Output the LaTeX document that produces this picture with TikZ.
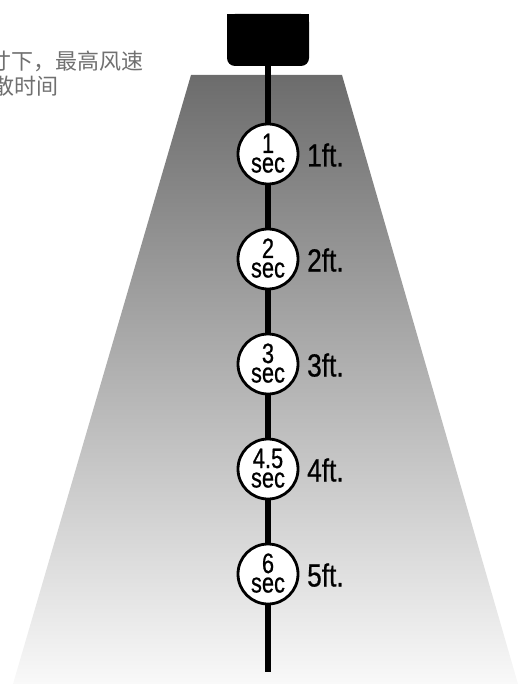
\documentclass[tikz,border=0pt]{standalone}
\usepackage{fontspec}
\setmainfont{Liberation Sans}
\newfontfamily\condfont[FakeStretch=0.78,FakeBold=0.6]{Liberation Sans}
\newfontfamily\labelfont[FakeStretch=0.82,FakeBold=0.6]{Liberation Sans}
\newfontfamily\cjkfont{Noto Sans CJK SC}
\definecolor{trapTop}{RGB}{108,108,108}
\definecolor{trapBot}{RGB}{249,249,249}
\definecolor{noteGray}{RGB}{112,112,112}
\tikzset{
  lampbox/.style={fill=black, inner sep=0pt, minimum width=82pt, minimum height=52pt, rounded corners=8pt},
  timecircle/.style={circle, draw=black, line width=2.8pt, fill=white, minimum size=60pt, inner sep=0pt},
  timenum/.style={anchor=base, inner sep=0pt, font=\fontsize{28}{28}\condfont},
  secword/.style={anchor=base, inner sep=0pt, font=\fontsize{28}{28}\condfont},
  distlabel/.style={anchor=base west, inner sep=0pt, font=\fontsize{32}{32}\labelfont},
  note/.style={anchor=base west, inner sep=0pt, text=noteGray, font=\fontsize{22}{22}\cjkfont},
  stem/.style={line width=6.5pt, draw=black}
}
\begin{document}
\begin{tikzpicture}[x=1pt,y=-1pt]
\useasboundingbox (0,0) rectangle (520,684);
% light cone
\shade[top color=trapTop, bottom color=trapBot] (191,75) -- (342,75) -- (518,684) -- (13,684) -- cycle;
% note text
\node[note] (note1) at (-11,70) {寸下，最高风速};
\node[note] (note2) at (-8,95) {散时间};
% lamp
\node[lampbox] (lamp) at (268,40) {};
\fill (lamp.north west) rectangle (lamp.east);
\coordinate (stemend) at (268,672);
\draw[stem] (lamp.south) -- (stemend);
% circles
\foreach \n/\y/\t/\d in {1/154/1/1ft., 2/259/2/2ft., 3/364/3/3ft., 4/469/4.5/4ft., 5/574/6/5ft.}{
  \node[timecircle] (c\n) at (268,\y) {};
  \node[timenum] (t\n) at ([yshift=1pt]c\n.center) {\t};
  \node[secword] (s\n) at ([yshift=-18.5pt]c\n.center) {sec};
  \node[distlabel] (d\n) at ([xshift=39pt,yshift=-12.5pt]c\n.center) {\d};
}
\end{tikzpicture}
\end{document}
